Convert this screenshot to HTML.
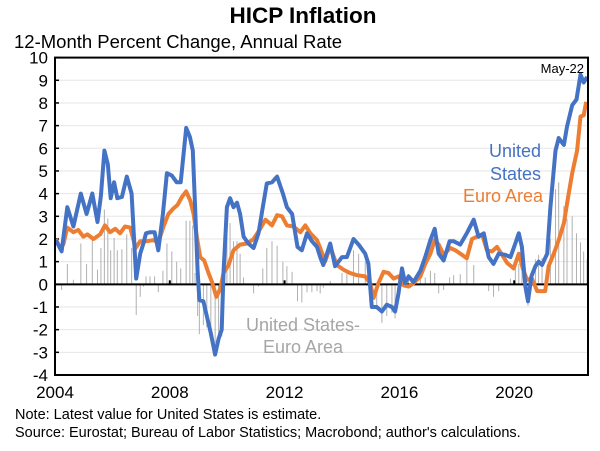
<!DOCTYPE html>
<html><head><meta charset="utf-8"><style>
body{margin:0;background:#fff;font-family:"Liberation Sans",sans-serif}
svg text{font-family:"Liberation Sans",sans-serif}
</style></head><body>
<svg width="600" height="446" viewBox="0 0 600 446">
<g id="root"></g>
</svg>
<script>
const usDates=[2004.03,2004.23,2004.43,2004.64,2004.9,2005.1,2005.3,2005.48,2005.6,2005.72,2005.84,2005.94,2006.06,2006.17,2006.33,2006.5,2006.67,2006.83,2006.97,2007.08,2007.17,2007.31,2007.47,2007.6,2007.76,2007.9,2008.07,2008.24,2008.38,2008.57,2008.7,2008.8,2008.88,2008.97,2009.03,2009.17,2009.29,2009.43,2009.58,2009.7,2009.81,2009.87,2009.99,2010.1,2010.22,2010.34,2010.45,2010.57,2010.74,2010.92,2011.09,2011.24,2011.38,2011.56,2011.74,2011.94,2012.08,2012.26,2012.45,2012.6,2012.78,2012.95,2013.13,2013.24,2013.35,2013.59,2013.76,2014.0,2014.17,2014.4,2014.58,2014.81,2014.92,2015.04,2015.21,2015.39,2015.56,2015.74,2015.85,2015.97,2016.09,2016.2,2016.32,2016.49,2016.73,2016.9,2017.08,2017.23,2017.37,2017.54,2017.75,2017.89,2018.12,2018.35,2018.59,2018.76,2018.94,2019.11,2019.28,2019.46,2019.69,2019.87,2020.04,2020.16,2020.27,2020.39,2020.48,2020.6,2020.74,2020.85,2020.97,2021.15,2021.26,2021.44,2021.55,2021.73,2021.84,2022.02,2022.17,2022.31,2022.42,2022.54];
const usValues=[1.95,1.45,3.4,2.55,4.0,3.1,4.0,2.75,3.9,5.9,5.3,3.8,4.5,3.8,3.85,4.75,4.0,0.25,1.35,1.8,2.25,2.3,2.3,1.5,3.1,4.9,4.8,4.5,4.5,6.9,6.5,5.9,3.4,0.6,-0.7,-0.75,-1.4,-2.15,-3.1,-2.4,-2.0,0.5,3.4,3.8,3.4,3.6,3.1,2.1,1.8,1.6,2.25,3.4,4.45,4.5,4.75,4.0,3.4,3.1,1.65,1.5,2.25,1.9,1.65,1.2,0.85,1.8,0.8,1.2,1.2,2.0,1.75,1.35,0.9,-1.0,-1.0,-1.2,-0.9,-1.0,-1.2,-0.4,0.7,0.05,0.35,0.1,0.6,1.2,1.95,2.45,1.35,1.05,1.9,1.9,1.75,2.25,2.85,2.1,2.25,1.2,0.9,1.35,1.3,1.2,1.8,2.25,1.65,-0.1,-0.75,0.35,0.8,1.0,0.85,1.35,3.4,5.9,6.45,6.15,6.95,7.9,8.15,9.25,8.9,9.15];
const euDates=[2004.03,2004.17,2004.29,2004.43,2004.64,2004.81,2004.99,2005.13,2005.34,2005.57,2005.74,2005.92,2006.1,2006.27,2006.44,2006.62,2006.81,2006.97,2007.2,2007.43,2007.6,2007.78,2007.95,2008.13,2008.27,2008.42,2008.57,2008.71,2008.83,2008.94,2009.06,2009.2,2009.35,2009.47,2009.62,2009.76,2009.87,2010.05,2010.22,2010.45,2010.69,2010.92,2011.15,2011.33,2011.56,2011.74,2011.91,2012.08,2012.31,2012.55,2012.72,2012.9,2013.13,2013.24,2013.41,2013.59,2013.82,2014.05,2014.28,2014.52,2014.81,2014.98,2015.1,2015.27,2015.45,2015.62,2015.8,2015.97,2016.15,2016.32,2016.49,2016.73,2016.9,2017.08,2017.23,2017.37,2017.54,2017.77,2017.95,2018.18,2018.35,2018.53,2018.7,2018.88,2019.05,2019.23,2019.4,2019.58,2019.75,2019.98,2020.16,2020.31,2020.45,2020.62,2020.8,2021.08,2021.2,2021.38,2021.55,2021.73,2021.9,2022.02,2022.19,2022.31,2022.42,2022.51];
const euValues=[2.0,1.6,1.75,2.5,2.3,2.4,2.1,2.2,2.0,2.2,2.6,2.3,2.45,2.25,2.55,2.5,1.6,1.9,1.9,1.95,1.85,2.55,3.1,3.35,3.5,3.85,4.1,3.7,3.1,2.1,1.2,1.05,0.5,0.1,-0.55,-0.2,0.5,0.85,1.5,1.75,1.8,2.0,2.45,2.85,2.6,3.05,3.0,2.6,2.55,2.3,2.6,2.25,1.95,1.6,1.0,1.65,0.85,0.65,0.5,0.4,0.35,0.05,-0.6,0.05,0.55,0.5,0.25,0.35,-0.05,-0.1,0.05,0.35,0.9,1.35,1.95,1.75,1.3,1.6,1.5,1.3,1.15,2.0,2.1,2.2,1.5,1.45,1.65,1.3,0.95,0.7,1.35,0.65,0.2,0.25,-0.3,-0.3,0.8,1.35,1.95,2.7,4.0,4.9,5.9,7.4,7.45,8.05];
const diffValues=[-0.05,-0.25,0.9,0.2,1.8,0.9,2.0,0.65,1.6,3.3,2.9,1.5,2.05,1.5,1.55,2.2,1.6,-1.35,-0.55,-0.1,0.35,0.35,0.35,-0.35,0.6,1.8,1.45,1.0,0.7,2.8,2.8,2.6,0.5,-1.4,-2.2,-1.8,-1.9,-2.2,-2.6,-2.2,-2.3,0,2.5,2.7,1.9,1.9,1.35,0.3,0,-0.4,-0.1,0.7,1.6,1.9,1.7,1.0,0.8,0.55,-0.75,-0.8,-0.35,-0.35,-0.3,-0.4,-0.15,0.15,-0.05,0.5,0.6,1.5,1.35,1.0,0.8,-0.7,-1.0,-1.7,-1.4,-1.25,-1.5,-0.75,0.7,0.15,0.45,0.05,0.25,0.3,0.6,0.5,-0.4,-0.25,0.3,0.4,0.45,1.1,0.85,0,0.05,-0.3,-0.55,-0.3,0,0.25,1.1,0.9,1.0,-0.3,-0.95,0.1,1.1,1.3,1.15,0.55,2.0,4.2,4.5,3.45,2.9,3.0,2.25,1.85,1.45,1.1];
const yTicks=[10,9,8,7,6,5,4,3,2,1,0,-1,-2,-3,-4];
const xTicks=[2004,2008,2012,2016,2020];

const L=55,R=588,T=57.6,B=375;
const X0=2004,XPY=28.7;
function xs(t){return L+(t-X0)*XPY;}
function ys(v){return T+(10-v)*(B-T)/14;}
const NS='http://www.w3.org/2000/svg';
const root=document.getElementById('root');
function mk(tag,attrs,parent){const e=document.createElementNS(NS,tag);for(const k in attrs)e.setAttribute(k,attrs[k]);(parent||root).appendChild(e);return e;}

yTicks.forEach(v=>{
  if(v!==0&&v!==10&&v!==-4){const g=mk('line',{x1:L,x2:R,y1:ys(v),y2:ys(v),stroke:'#e6e6e6','stroke-width':1});
  
  }
  const tk=mk('line',{x1:L,x2:L+4,y1:ys(v),y2:ys(v),stroke:'#000','stroke-width':1.5});
  
  
  const t=mk('text',{x:48,y:ys(v)+6,'text-anchor':'end','font-size':17,fill:'#000'});
  t.textContent=v;
  
  
});
usDates.forEach((d,i)=>{
  const b=mk('line',{x1:xs(d),x2:xs(d),y1:ys(0),y2:ys(diffValues[i]),stroke:'#b0b0b0','stroke-width':1});
  
  
});
const z=mk('line',{x1:L,x2:R,y1:ys(0),y2:ys(0),stroke:'#000','stroke-width':2});


xTicks.forEach(y=>{
  const tk=mk('line',{x1:xs(y),x2:xs(y),y1:ys(0),y2:ys(0)-4,stroke:'#000','stroke-width':2});
  
  
  const t=mk('text',{x:xs(y),y:398,'text-anchor':'middle','font-size':17,fill:'#000'});
  t.textContent=y;
  
  
});
function path(d,v){return d.map((t,i)=>(i?'L':'M')+xs(t).toFixed(1)+','+ys(v[i]).toFixed(1)).join('');}
const eu=mk('path',{d:path(euDates,euValues),fill:'none',stroke:'#ED7D31','stroke-width':4,'stroke-linejoin':'round'});


const us=mk('path',{d:path(usDates,usValues),fill:'none',stroke:'#4472C4','stroke-width':4,'stroke-linejoin':'round'});


const fr=mk('rect',{x:L,y:T,width:R-L,height:B-T,fill:'none',stroke:'#000','stroke-width':2});


</script>
<svg width="600" height="446" style="position:absolute;left:0;top:0">
<text x="303" y="23" text-anchor="middle" font-size="22.5" font-weight="bold">HICP Inflation</text>
<text x="14" y="48" font-size="18.5">12-Month Percent Change, Annual Rate</text>
<text x="584" y="73" text-anchor="end" font-size="13">May-22</text>
<text x="541" y="157" text-anchor="end" font-size="18" fill="#4472C4">United</text>
<text x="541" y="180" text-anchor="end" font-size="18" fill="#4472C4">States</text>
<text x="543" y="202" text-anchor="end" font-size="18" fill="#ED7D31">Euro Area</text>
<text x="303" y="331" text-anchor="middle" font-size="18" fill="#a6a6a6">United States-</text>
<text x="303" y="353" text-anchor="middle" font-size="18" fill="#a6a6a6">Euro Area</text>
<text x="15" y="419" font-size="14.5">Note: Latest value for United States is estimate.</text>
<text x="15" y="437" font-size="14.5">Source: Eurostat; Bureau of Labor Statistics; Macrobond; author's calculations.</text>
</svg>
</body></html>
